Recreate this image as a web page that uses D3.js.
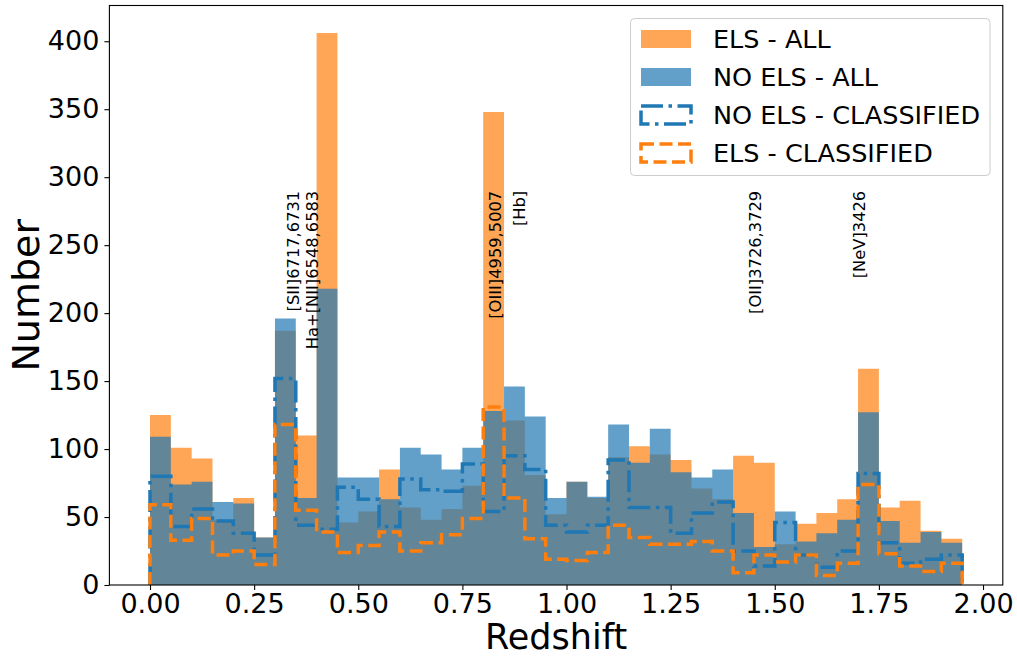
<!DOCTYPE html>
<html><head><meta charset="utf-8">
<script src="https://cdn.jsdelivr.net/npm/d3@7"></script>
<style>
body{margin:0;background:#fff}
svg{display:block}
text{font-family:"DejaVu Sans",sans-serif;fill:#000}
</style>
</head><body>
<svg id="chart" width="1017" height="657"></svg>
<script>
// Bin edges (redshift)
const binEdges = [0.00,0.05,0.10,0.15,0.20,0.25,0.30,0.35,0.40,0.45,0.50,0.55,0.60,0.65,0.70,0.75,0.80,0.85,0.90,0.95,
  1.00,1.05,1.10,1.15,1.20,1.25,1.30,1.35,1.40,1.45,1.50,1.55,1.60,1.65,1.70,1.75,1.80,1.85,1.90,1.95];

const elsAll = [125,101,93,48,64,35,187,110,406,46,54,85,57,48,56,73,348,121,81,52,
  76,64,94,102,96,92,71,63,95,90,30,45,53,63,159,57,62,40,34];
const noElsAll = [109,74,76,61,60,35,196,64,218,79,79,63,101,96,85,101,128,146,124,64,
  76,65,118,90,115,83,79,85,53,28,54,32,38,48,127,47,31,39,31];
const noElsClassified = [80,43,56,47,38,22,152,44,41,72,63,43,78,70,69,89,54,95,85,44,
  39,44,92,57,57,38,53,61,25,14,46,22,13,25,82,31,16,19,22];
const elsClassified = [59,33,49,22,25,15,118,55,39,24,29,39,25,31,37,49,131,64,34,19,
  18,24,44,35,30,30,32,25,9,22,17,22,7,16,74,23,14,10,16];

const xTicks = [0,0.25,0.5,0.75,1.0,1.25,1.5,1.75,2.0];
const yTicks = [0,50,100,150,200,250,300,350,400];

const lineLabels = ["[SII]6717,6731","Ha+[NII]6548,6583","[OIII]4959,5007","[Hb]","[OII]3726,3729","[NeV]3426"];
const lineLabelX = [0.3457,0.389,0.8307,0.888,1.4526,1.704];
const lineLabelTop = 290;

const legendLabels = ["ELS - ALL","NO ELS - ALL","NO ELS - CLASSIFIED","ELS - CLASSIFIED"];

const ORANGE = "#ff7f0e", BLUE = "#1f77b4";
const BIN_W = 0.05;

const svg = d3.select("#chart");
const L = 109.4, R = 1002.8, T = 5.5, B = 585;
const xMin = binEdges[0], xMax = binEdges[binEdges.length-1];
const xPad = (xMax - xMin)*0.05;
const x = d3.scaleLinear().domain([xMin - xPad, xMax + xPad]).range([L, R]);
const yMax = d3.max(elsAll.concat(noElsAll)) * 1.05;
const y = d3.scaleLinear().domain([0, yMax]).range([B, T]);

function rightEdge(i){ return i+1 < binEdges.length ? binEdges[i+1] : binEdges[i] + BIN_W; }
function fillPts(vals){
  const pts = [];
  vals.forEach((v,i)=>{ pts.push([binEdges[i], v]); pts.push([rightEdge(i), v]); });
  return pts;
}
function stepPts(vals){
  const pts = [[binEdges[0],0]];
  vals.forEach((v,i)=>{ pts.push([binEdges[i], v]); pts.push([rightEdge(i), v]); });
  pts.push([pts[pts.length-1][0], 0]);
  return pts;
}

const area = d3.area().x(d=>x(d[0])).y0(y(0)).y1(d=>y(d[1]));
const line = d3.line().x(d=>x(d[0])).y(d=>y(d[1]));

const g = svg.append("g");
g.append("path").attr("d", area(fillPts(elsAll))).attr("fill", ORANGE).attr("fill-opacity", 0.7);
g.append("path").attr("d", area(fillPts(noElsAll))).attr("fill", BLUE).attr("fill-opacity", 0.7);
g.append("path").attr("d", line(stepPts(noElsClassified))).attr("fill","none").attr("stroke", BLUE)
  .attr("stroke-width", 3.5).attr("stroke-dasharray","22,5.5,3.5,5.5");
g.append("path").attr("d", line(stepPts(elsClassified))).attr("fill","none").attr("stroke", ORANGE)
  .attr("stroke-width", 3.5).attr("stroke-dasharray","13,5.5");

// line labels
lineLabels.forEach((t,i)=>{
  svg.append("text")
    .attr("transform", `translate(${x(lineLabelX[i])+5.5},${y(lineLabelTop)}) rotate(-90)`)
    .attr("text-anchor","end")
    .style("font-size","16.3px")
    .text(t);
});

// frame
svg.append("rect").attr("x",L).attr("y",T).attr("width",R-L).attr("height",B-T)
  .attr("fill","none").attr("stroke","#000").attr("stroke-width",1.1);

// axes
const xAxis = d3.axisBottom(x).tickValues(xTicks).tickFormat(d3.format(".2f")).tickSize(5).tickPadding(4);
const gx = svg.append("g").attr("transform",`translate(0,${B})`).call(xAxis);
gx.select(".domain").remove();
gx.selectAll("line").attr("stroke","#000").attr("stroke-width",1.1);
gx.selectAll("text").style("font-size","27px").attr("font-family","DejaVu Sans").attr("fill","#000");

const yAxis = d3.axisLeft(y).tickValues(yTicks).tickSize(5).tickPadding(5);
const gy = svg.append("g").attr("transform",`translate(${L},0)`).call(yAxis);
gy.select(".domain").remove();
gy.selectAll("line").attr("stroke","#000").attr("stroke-width",1.1);
gy.selectAll("text").style("font-size","27px").attr("font-family","DejaVu Sans").attr("fill","#000");

svg.append("text").attr("x",(L+R)/2).attr("y",649).attr("text-anchor","middle")
  .style("font-size","35px").text("Redshift");
svg.append("text").attr("transform",`translate(38.5,${(T+B)/2}) rotate(-90)`).attr("text-anchor","middle")
  .style("font-size","38px").text("Number");

// legend
const lg = svg.append("g");
lg.append("rect").attr("x",630.5).attr("y",18.5).attr("width",359.5).attr("height",157).attr("rx",4)
  .attr("fill","#fff").attr("fill-opacity",0.8).attr("stroke","#cccccc").attr("stroke-width",1);
const rowY = [39,77,115,153];
const styles = [
  {fill:ORANGE, op:0.7},
  {fill:BLUE, op:0.7},
  {stroke:BLUE, dash:"22,5.5,3.5,5.5"},
  {stroke:ORANGE, dash:"13,5.5"}
];
legendLabels.forEach((t,i)=>{
  const s = styles[i];
  const r = lg.append("rect").attr("x",641).attr("y",rowY[i]-9).attr("width",50).attr("height",18);
  if (s.fill) r.attr("fill",s.fill).attr("fill-opacity",s.op);
  else r.attr("fill","none").attr("stroke",s.stroke).attr("stroke-width",3.5).attr("stroke-dasharray",s.dash);
  lg.append("text").attr("x",713).attr("y",rowY[i]+9).style("font-size","25.5px").text(t);
});
</script>
</body></html>
